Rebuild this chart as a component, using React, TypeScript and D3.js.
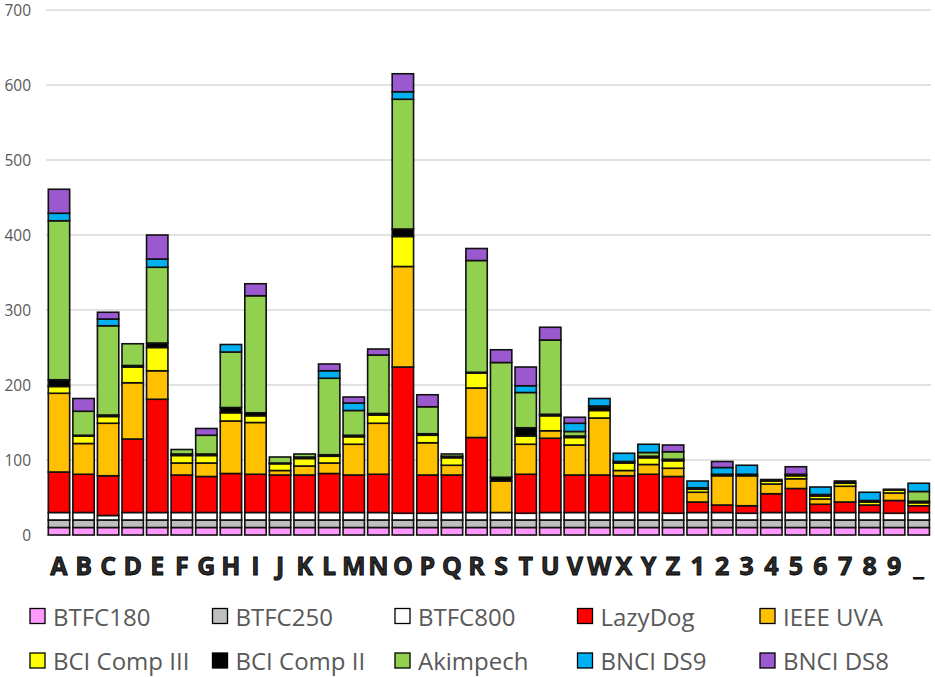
import React from "react";
import * as d3 from "d3";

// categories along the x axis
const categories = [
  "A", "B", "C", "D", "E", "F", "G", "H", "I", "J", "K", "L", "M", "N", "O", "P", "Q", "R",
  "S", "T", "U", "V", "W", "X", "Y", "Z", "1", "2", "3", "4", "5", "6", "7", "8", "9", "_",
];

// series values, one entry per category (bottom to top of the stack)
const btfc180 = [10, 10, 10, 10, 10, 10, 10, 10, 10, 10, 10, 10, 10, 10, 10, 10, 10, 10, 10, 10, 10, 10, 10, 10, 10, 10, 10, 10, 10, 10, 10, 10, 10, 10, 10, 10];
const btfc250 = [10, 10, 10, 10, 10, 10, 10, 10, 10, 10, 10, 10, 10, 10, 10, 10, 10, 10, 10, 10, 10, 10, 10, 10, 10, 10, 10, 10, 10, 10, 10, 10, 10, 10, 10, 10];
const btfc800 = [10, 10, 6, 10, 10, 10, 10, 10, 10, 10, 10, 10, 10, 10, 9, 9, 10, 10, 10, 9, 10, 10, 10, 10, 10, 9, 10, 10, 9, 10, 10, 10, 10, 10, 9, 10];
const lazyDog = [54, 51, 53, 98, 151, 50, 48, 52, 51, 50, 50, 52, 50, 51, 195, 51, 50, 100, 0, 52, 99, 50, 50, 49, 51, 49, 14, 10, 10, 25, 32, 11, 14, 10, 17, 9];
const ieeeUva = [105, 41, 70, 75, 38, 16, 18, 70, 69, 6, 12, 14, 41, 68, 134, 43, 13, 66, 42, 40, 10, 40, 76, 7, 13, 11, 13, 39, 40, 13, 13, 7, 21, 0, 10, 0];
const bciComp3 = [9, 10, 9, 21, 31, 10, 10, 11, 9, 9, 10, 9, 10, 11, 40, 10, 10, 20, 0, 11, 20, 10, 10, 10, 9, 10, 4, 0, 0, 4, 4, 4, 4, 4, 4, 4];
const bciComp2 = [9, 1, 2, 2, 6, 2, 2, 7, 4, 1, 2, 2, 2, 2, 10, 2, 2, 1, 5, 11, 2, 2, 4, 2, 2, 2, 2, 2, 2, 2, 2, 2, 3, 2, 1, 2];
const akimpech = [212, 32, 119, 29, 101, 6, 25, 74, 156, 8, 4, 102, 33, 78, 173, 36, 3, 149, 153, 47, 99, 6, 2, 0, 5, 10, 0, 0, 0, 0, 0, 0, 0, 0, 0, 13];
const bnciDs9 = [10, 0, 9, 0, 11, 0, 0, 10, 0, 0, 0, 10, 10, 0, 10, 0, 0, 0, 0, 9, 0, 11, 10, 11, 11, 0, 9, 9, 12, 0, 0, 10, 0, 11, 0, 11];
const bnciDs8 = [32, 17, 9, 0, 32, 0, 9, 0, 16, 0, 0, 9, 8, 8, 24, 16, 0, 16, 17, 25, 17, 8, 0, 0, 0, 9, 0, 8, 0, 0, 10, 0, 0, 0, 0, 0];

const seriesNames = [
  "BTFC180", "BTFC250", "BTFC800", "LazyDog", "IEEE UVA",
  "BCI Comp III", "BCI Comp II", "Akimpech", "BNCI DS9", "BNCI DS8",
];
const seriesValues = [btfc180, btfc250, btfc800, lazyDog, ieeeUva, bciComp3, bciComp2, akimpech, bnciDs9, bnciDs8];
const seriesColors = [
  "#FF99FF", "#BFBFBF", "#FFFFFF", "#FF0000", "#FFC000",
  "#FFFF00", "#000000", "#92D050", "#00B0F0", "#9B59CF",
];

const yTicks = [0, 100, 200, 300, 400, 500, 600, 700];

const W = 935;
const H = 677;

export default function App() {
  const rows = categories.map((c, i) => {
    const row: any = { cat: c };
    seriesNames.forEach((s, j) => (row[s] = seriesValues[j][i]));
    return row;
  });
  const stacked = d3.stack<any>().keys(seriesNames)(rows);

  const x = d3
    .scaleBand()
    .domain(categories)
    .range([46.7, 931])
    .paddingInner(0.13)
    .paddingOuter(0.065);
  const y = d3.scaleLinear().domain([0, 700]).range([535, 10]);

  const font = "'Open Sans', 'DejaVu Sans', sans-serif";

  return (
    <svg width={W} height={H} style={{ position: "absolute", left: 0, top: 0, background: "#fff" }}>
      {/* gridlines + y labels */}
      {yTicks.map((t) => (
        <g key={t}>
          <line x1={46} x2={931} y1={y(t)} y2={y(t)} stroke="#d9d9d9" strokeWidth={1.5} />
          <text
            x={31}
            y={y(t)}
            textAnchor="end"
            dominantBaseline="central"
            fontSize={15.5}
            fontFamily={font}
            fill="#595959"
          >
            {t}
          </text>
        </g>
      ))}

      {/* stacked bars */}
      {stacked.map((layer, j) => (
        <g key={layer.key} fill={seriesColors[j]}>
          {layer.map((d, i) =>
            d[1] - d[0] > 0 ? (
              <rect
                key={i}
                x={x(categories[i])}
                width={x.bandwidth()}
                y={y(d[1])}
                height={y(d[0]) - y(d[1])}
                stroke="#111"
                strokeWidth={1.6}
              />
            ) : null
          )}
        </g>
      ))}

      {/* x labels */}
      {categories.map((c) => (
        <text
          key={c}
          x={(x(c) as number) + x.bandwidth() / 2}
          y={575}
          textAnchor="middle"
          fontSize={25}
          fontWeight="bold"
          fontFamily={font}
          fill="#2b2b2b"
          stroke="#000"
          strokeWidth={0.8}
        >
          {c}
        </text>
      ))}

      {/* legend */}
      {seriesNames.map((s, j) => {
        const col = j % 5;
        const row = Math.floor(j / 5);
        const lx = 30 + col * 182.5;
        const ly = 616 + row * 44.5;
        return (
          <g key={s}>
            <rect x={lx} y={ly - 7.5} width={15} height={15} fill={seriesColors[j]} stroke="#000" strokeWidth={1.3} />
            <text
              x={lx + 23}
              y={ly}
              dominantBaseline="central"
              fontSize={24}
              fontFamily={font}
              fill="#595959"
            >
              {s}
            </text>
          </g>
        );
      })}
    </svg>
  );
}
